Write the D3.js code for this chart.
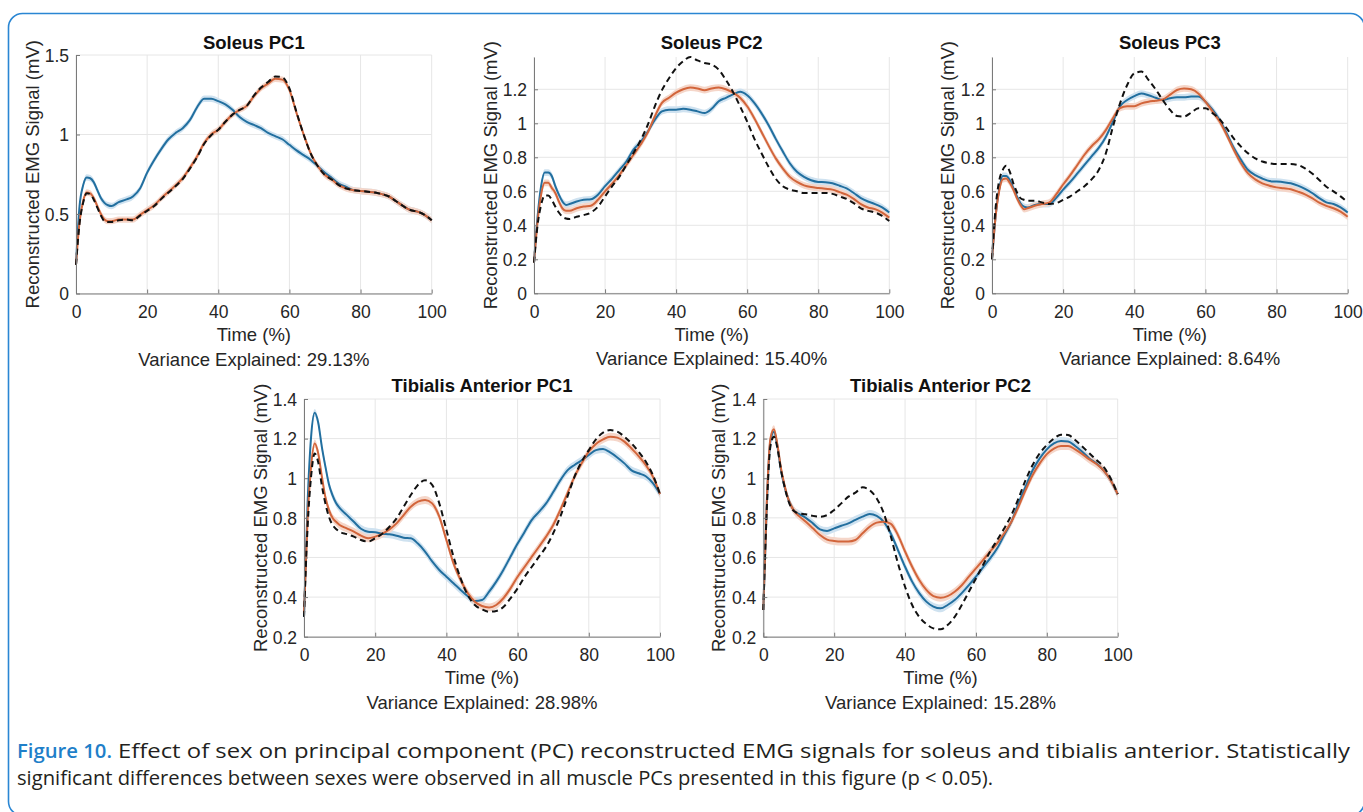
<!DOCTYPE html>
<html><head><meta charset="utf-8">
<script src="https://cdn.jsdelivr.net/npm/d3@7"></script>
<style>body{margin:0;background:#fff}svg{display:block}</style>
</head><body>
<svg id="fig" width="1363" height="812"></svg>
<script>
// ---------- DATA ----------
const time = [0,1,2,3,4,5,6,7,8,9,10,12,14,16,18,20,22,24,26,28,30,32,34,36,38,40,42,44,46,48,50,52,54,56,58,60,62,64,66,68,70,72,74,76,78,80,82,84,86,88,90,92,94,96,98,100];
const xTicks = [0,20,40,60,80,100];

const titles = ["Soleus PC1","Soleus PC2","Soleus PC3","Tibialis Anterior PC1","Tibialis Anterior PC2"];
const varianceExplained = ["29.13%","15.40%","8.64%","28.98%","15.28%"];
const sol1YTicks = [0,0.5,1,1.5];
const sol23YTicks = [0,0.2,0.4,0.6,0.8,1,1.2];
const taYTicks = [0.2,0.4,0.6,0.8,1,1.2,1.4];

// Soleus PC1
const sol1Blue = [0.18,0.55,0.68,0.73,0.725,0.70,0.65,0.60,0.57,0.555,0.55,
 0.575,0.59,0.61,0.66,0.76,0.84,0.91,0.97,1.01,1.04,
 1.09,1.17,1.225,1.225,1.21,1.19,1.155,1.11,1.08,1.06,
 1.04,1.01,0.99,0.97,0.935,0.90,0.87,0.84,0.80,0.76,
 0.725,0.69,0.67,0.65,0.645,0.64,0.635,0.625,0.61,0.58,
 0.55,0.525,0.515,0.495,0.46];
const sol1Orange = [0.18,0.45,0.58,0.635,0.63,0.60,0.55,0.50,0.465,0.455,0.455,
 0.465,0.465,0.465,0.495,0.525,0.555,0.60,0.64,0.68,0.725,
 0.79,0.86,0.945,1.0,1.03,1.08,1.125,1.155,1.18,1.24,
 1.29,1.32,1.35,1.345,1.28,1.135,1.0,0.88,0.80,0.745,
 0.715,0.68,0.66,0.65,0.645,0.64,0.635,0.625,0.61,0.58,
 0.55,0.525,0.515,0.495,0.46];
const sol1Dash = [0.18,0.44,0.57,0.63,0.625,0.59,0.54,0.49,0.455,0.45,0.45,
 0.46,0.465,0.46,0.49,0.52,0.55,0.595,0.635,0.675,0.72,
 0.785,0.855,0.94,0.995,1.03,1.08,1.125,1.155,1.18,1.245,
 1.295,1.33,1.365,1.36,1.29,1.14,1.0,0.88,0.80,0.745,
 0.715,0.68,0.66,0.65,0.645,0.64,0.635,0.625,0.61,0.58,
 0.55,0.525,0.515,0.495,0.46];

// Soleus PC2
const sol2Blue = [0.18,0.45,0.63,0.71,0.71,0.69,0.63,0.58,0.54,0.52,0.525,
 0.54,0.55,0.553,0.58,0.63,0.675,0.725,0.775,0.845,0.89,
 0.95,1.02,1.07,1.08,1.08,1.085,1.08,1.07,1.06,1.085,
 1.13,1.15,1.17,1.185,1.165,1.12,1.06,0.99,0.91,0.835,
 0.765,0.715,0.685,0.665,0.655,0.653,0.647,0.633,0.617,0.59,
 0.56,0.54,0.525,0.505,0.475];
const sol2Orange = [0.18,0.42,0.58,0.65,0.65,0.62,0.59,0.54,0.50,0.485,0.485,
 0.50,0.51,0.515,0.55,0.60,0.645,0.695,0.755,0.815,0.875,
 0.945,1.04,1.12,1.15,1.18,1.20,1.21,1.205,1.195,1.205,
 1.21,1.20,1.18,1.15,1.10,1.03,0.95,0.87,0.795,0.735,
 0.685,0.655,0.635,0.625,0.62,0.615,0.61,0.595,0.58,0.555,
 0.525,0.505,0.495,0.475,0.445];
const sol2Dash = [0.18,0.40,0.52,0.575,0.575,0.55,0.51,0.475,0.45,0.44,0.437,
 0.45,0.46,0.475,0.51,0.57,0.63,0.685,0.755,0.825,0.90,
 0.99,1.10,1.195,1.265,1.325,1.365,1.39,1.37,1.355,1.345,
 1.315,1.255,1.185,1.10,1.01,0.91,0.825,0.745,0.675,0.63,
 0.61,0.60,0.59,0.59,0.59,0.59,0.585,0.57,0.555,0.53,
 0.50,0.485,0.475,0.455,0.425];

// Soleus PC3
const sol3Blue = [0.2,0.45,0.61,0.69,0.69,0.665,0.62,0.57,0.53,0.51,0.505,
 0.52,0.525,0.525,0.56,0.61,0.655,0.705,0.755,0.805,0.855,
 0.92,1.01,1.10,1.137,1.16,1.175,1.165,1.15,1.137,1.147,
 1.153,1.153,1.157,1.157,1.127,1.08,1.02,0.94,0.855,0.785,
 0.725,0.695,0.675,0.66,0.657,0.653,0.647,0.633,0.614,0.59,
 0.56,0.535,0.525,0.505,0.475];
const sol3Orange = [0.2,0.45,0.60,0.67,0.675,0.65,0.61,0.56,0.52,0.495,0.50,
 0.515,0.525,0.533,0.58,0.64,0.695,0.755,0.815,0.865,0.905,
 0.96,1.03,1.09,1.10,1.10,1.117,1.127,1.133,1.14,1.167,
 1.196,1.205,1.20,1.176,1.127,1.07,1.01,0.93,0.843,0.765,
 0.705,0.67,0.647,0.633,0.623,0.618,0.612,0.598,0.582,0.56,
 0.533,0.514,0.50,0.48,0.45];
const sol3Dash = [0.2,0.5,0.66,0.725,0.75,0.715,0.647,0.595,0.56,0.55,0.545,
 0.545,0.535,0.525,0.53,0.55,0.57,0.60,0.63,0.67,0.725,
 0.823,0.98,1.118,1.225,1.294,1.304,1.255,1.20,1.137,1.08,
 1.043,1.04,1.063,1.088,1.088,1.06,1.024,0.97,0.91,0.863,
 0.823,0.794,0.775,0.765,0.76,0.76,0.76,0.755,0.735,0.705,
 0.667,0.627,0.60,0.57,0.535];

// Tibialis Anterior PC1
const ta1Blue = [0.30,0.87,1.21,1.33,1.28,1.16,1.06,0.97,0.915,0.875,0.85,
 0.815,0.78,0.745,0.73,0.727,0.72,0.717,0.71,0.70,0.697,
 0.67,0.63,0.58,0.537,0.503,0.47,0.436,0.405,0.38,0.385,
 0.427,0.478,0.537,0.604,0.67,0.73,0.79,0.83,0.873,0.93,
 0.99,1.04,1.067,1.09,1.117,1.142,1.147,1.13,1.105,1.075,
 1.04,1.025,1.01,0.975,0.92];
const ta1Orange = [0.32,0.79,1.06,1.175,1.125,1.01,0.905,0.84,0.80,0.78,0.764,
 0.747,0.73,0.71,0.697,0.705,0.72,0.742,0.772,0.814,0.856,
 0.882,0.89,0.873,0.806,0.688,0.57,0.486,0.42,0.377,0.355,
 0.348,0.36,0.394,0.444,0.503,0.553,0.604,0.654,0.705,0.764,
 0.84,0.924,1.008,1.075,1.134,1.173,1.196,1.21,1.205,1.185,
 1.15,1.112,1.067,1.008,0.92];
const ta1Dash = [0.30,0.75,1.01,1.125,1.08,0.965,0.873,0.806,0.764,0.744,0.73,
 0.718,0.705,0.688,0.68,0.697,0.72,0.755,0.797,0.856,0.915,
 0.966,0.99,0.966,0.873,0.739,0.604,0.494,0.41,0.36,0.338,
 0.326,0.33,0.35,0.394,0.444,0.503,0.553,0.604,0.654,0.722,
 0.806,0.907,1.008,1.084,1.142,1.196,1.23,1.243,1.235,1.21,
 1.176,1.134,1.084,1.016,0.92];

// Tibialis Anterior PC2
const ta2Blue = [0.335,0.873,1.185,1.235,1.16,1.04,0.957,0.898,0.856,0.83,0.82,
 0.80,0.772,0.742,0.734,0.747,0.76,0.772,0.79,0.806,0.82,
 0.81,0.78,0.72,0.637,0.553,0.478,0.42,0.377,0.352,0.343,
 0.36,0.385,0.42,0.46,0.503,0.55,0.595,0.646,0.713,0.78,
 0.873,0.957,1.04,1.10,1.146,1.176,1.188,1.185,1.163,1.134,
 1.10,1.075,1.04,0.99,0.92];
const ta2Orange = [0.335,0.89,1.20,1.247,1.168,1.05,0.965,0.898,0.856,0.828,0.81,
 0.78,0.747,0.713,0.69,0.683,0.68,0.68,0.688,0.722,0.755,
 0.776,0.78,0.77,0.713,0.63,0.553,0.486,0.436,0.405,0.397,
 0.405,0.427,0.46,0.503,0.545,0.587,0.63,0.671,0.722,0.78,
 0.856,0.94,1.016,1.075,1.122,1.15,1.163,1.163,1.146,1.122,
 1.095,1.072,1.04,0.99,0.92];
const ta2Dash = [0.335,0.85,1.16,1.21,1.15,1.04,0.957,0.89,0.848,0.83,0.823,
 0.818,0.81,0.806,0.814,0.84,0.873,0.907,0.927,0.954,0.94,
 0.898,0.823,0.705,0.57,0.452,0.36,0.30,0.264,0.242,0.237,
 0.259,0.30,0.36,0.427,0.494,0.562,0.63,0.688,0.747,0.814,
 0.898,0.99,1.067,1.126,1.168,1.20,1.22,1.218,1.193,1.16,
 1.126,1.092,1.058,1.0,0.92];

const bandHalfWidth = 0.02;

const captionLabel = "Figure 10.";
const captionLine1 = "Effect of sex on principal component (PC) reconstructed EMG signals for soleus and tibialis anterior. Statistically";
const captionLine2 = "significant differences between sexes were observed in all muscle PCs presented in this figure (p < 0.05).";

// ---------- LAYOUT / STYLE ----------
const C = {blue:"#226f9f", orange:"#d2653b", blueBand:"#cfe2f0", orangeBand:"#f5d6c9",
  grid:"#e6e6e6", axis:"#7a7a7a", text:"#262626", frame:"#2a86d3"};
const FONT = "'Liberation Sans', Arial, Helvetica, sans-serif";
const tickFS = 17.5, labFS = 18.5;

const panels = [
 {i:0, x0:76,    x1:431.7,  yb:293.5, yt:55,  dom:[0,1.5],  ticks:sol1YTicks,  ylabX:32,  titleY:48.5, s:[sol1Blue,sol1Orange,sol1Dash]},
 {i:1, x0:534,   x1:889.3,  yb:293.3, yt:57,  dom:[0,1.39], ticks:sol23YTicks, ylabX:490, titleY:48.5, s:[sol2Blue,sol2Orange,sol2Dash]},
 {i:2, x0:992,   x1:1347.7, yb:293.3, yt:57,  dom:[0,1.39], ticks:sol23YTicks, ylabX:947, titleY:48.5, s:[sol3Blue,sol3Orange,sol3Dash]},
 {i:3, x0:304,   x1:660,    yb:636.7, yt:399, dom:[0.2,1.4],ticks:taYTicks,    ylabX:260, titleY:391.5, s:[ta1Blue,ta1Orange,ta1Dash]},
 {i:4, x0:763.3, x1:1117.7, yb:636.7, yt:399, dom:[0.2,1.4],ticks:taYTicks,    ylabX:718, titleY:391.5, s:[ta2Blue,ta2Orange,ta2Dash]}
];

const svg = d3.select("#fig");
svg.append("rect").attr("width",1363).attr("height",812).attr("fill","#fff");
svg.append("rect").attr("x",8.5).attr("y",13.5).attr("width",1356).attr("height",802)
  .attr("rx",14).attr("fill","none").attr("stroke",C.frame).attr("stroke-width",1.6);

panels.forEach(p => {
  const x = d3.scaleLinear().domain([0,100]).range([p.x0,p.x1]);
  const y = d3.scaleLinear().domain(p.dom).range([p.yb,p.yt]);
  const g = svg.append("g");
  g.selectAll(".gx").data(xTicks).join("line")
    .attr("x1",d=>x(d)).attr("x2",d=>x(d)).attr("y1",p.yb).attr("y2",p.yt)
    .attr("stroke",C.grid).attr("stroke-width",1);
  g.selectAll(".gy").data(p.ticks).join("line")
    .attr("x1",p.x0).attr("x2",p.x1).attr("y1",d=>y(d)).attr("y2",d=>y(d))
    .attr("stroke",C.grid).attr("stroke-width",1);

  const pts = s => time.map((t,k)=>[t,s[k]]);
  const area = d3.area().x(d=>x(d[0])).y0(d=>y(d[1]-bandHalfWidth)).y1(d=>y(d[1]+bandHalfWidth)).curve(d3.curveMonotoneX);
  const line = d3.line().x(d=>x(d[0])).y(d=>y(d[1])).curve(d3.curveMonotoneX);
  g.append("path").attr("d",area(pts(p.s[0]))).attr("fill",C.blueBand);
  g.append("path").attr("d",area(pts(p.s[1]))).attr("fill",C.orangeBand);
  g.append("path").attr("d",line(pts(p.s[0]))).attr("fill","none").attr("stroke",C.blue).attr("stroke-width",2);
  g.append("path").attr("d",line(pts(p.s[1]))).attr("fill","none").attr("stroke",C.orange).attr("stroke-width",2);
  g.append("path").attr("d",line(pts(p.s[2]))).attr("fill","none").attr("stroke","#111").attr("stroke-width",2).attr("stroke-dasharray","6,4");

  const ax = g.append("g").attr("transform",`translate(0,${p.yb})`)
    .call(d3.axisBottom(x).tickValues(xTicks).tickFormat(d=>String(d)).tickSizeInner(-4).tickSizeOuter(0).tickPadding(12));
  const ay = g.append("g").attr("transform",`translate(${p.x0},0)`)
    .call(d3.axisLeft(y).tickValues(p.ticks).tickFormat(d=>String(d)).tickSizeInner(-4).tickSizeOuter(0).tickPadding(7));
  [ax,ay].forEach(a=>{
    a.select(".domain").attr("stroke",C.axis);
    a.selectAll(".tick line").attr("stroke",C.axis);
    a.selectAll("text").attr("fill",C.text).style("font-family",FONT).style("font-size",tickFS+"px");
  });
  ay.selectAll("text").attr("dy","0.36em");

  const cx = (p.x0+p.x1)/2;
  g.append("text").attr("x",cx).attr("y",p.titleY).attr("text-anchor","middle")
    .style("font-family",FONT).style("font-size",labFS+"px").style("font-weight","bold").attr("fill","#111")
    .text(titles[p.i]);
  g.append("text").attr("x",cx).attr("y",p.yb+47.5).attr("text-anchor","middle")
    .style("font-family",FONT).style("font-size",labFS+"px").attr("fill",C.text).text("Time (%)");
  g.append("text").attr("x",cx).attr("y",p.yb+72).attr("text-anchor","middle")
    .style("font-family",FONT).style("font-size",labFS+"px").attr("fill",C.text)
    .text("Variance Explained: "+varianceExplained[p.i]);
  g.append("text").attr("transform",`translate(${p.ylabX},${(p.yb+p.yt)/2}) rotate(-90)`)
    .attr("text-anchor","middle").attr("dominant-baseline","central")
    .style("font-family",FONT).style("font-size",labFS+"px").attr("fill",C.text)
    .text("Reconstructed EMG Signal (mV)");
});

// caption (condensed look via glyph compression)
const capFont = "'Open Sans','Liberation Sans',sans-serif";
const capFS = 20.5;
function capText(str, x, yBase, len, opts){
  return svg.append("text").attr("x",x).attr("y",yBase)
    .style("font-family",capFont).style("font-size",capFS+"px")
    .attr("fill",opts.fill||"#231f20").style("font-weight",opts.bold?"600":"normal")
    .attr("textLength",len).attr("lengthAdjust","spacingAndGlyphs").text(str);
}
capText(captionLabel, 17, 758, 95, {bold:true, fill:"#1f7fc9"});
capText(captionLine1, 118, 758, 1232, {});
capText(captionLine2, 17, 785, 976, {});
</script>
</body></html>
